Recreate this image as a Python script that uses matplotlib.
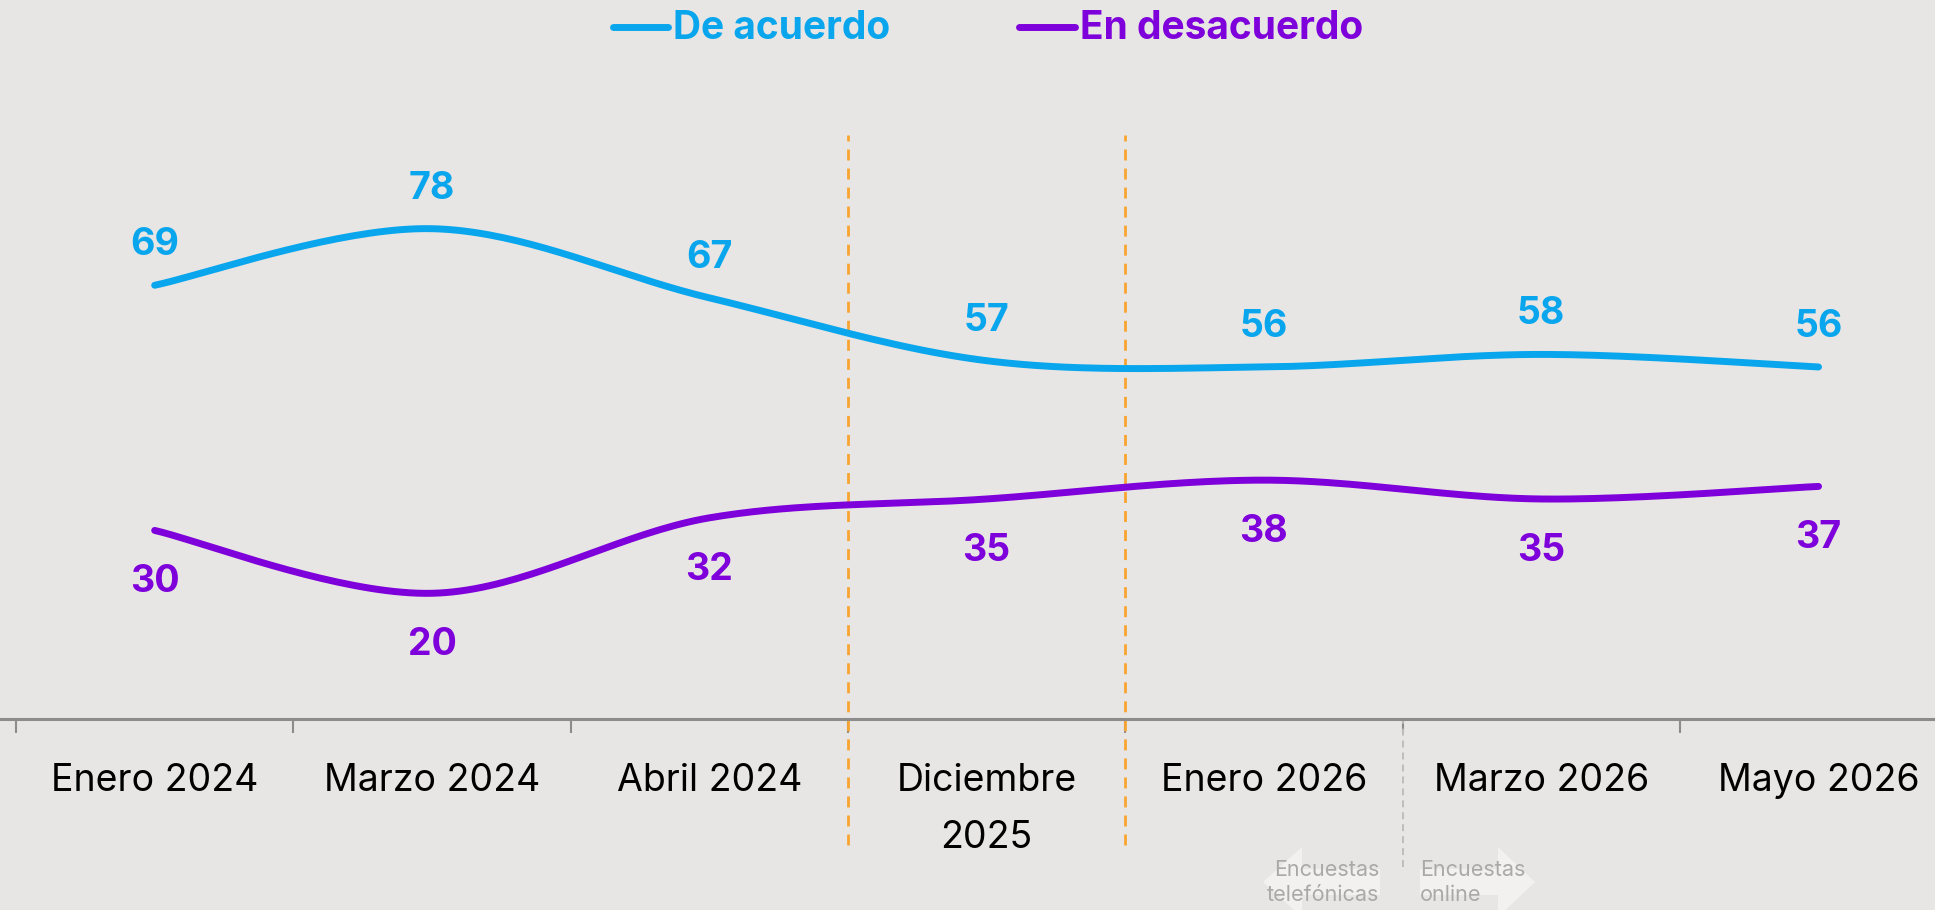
import numpy as np
import matplotlib.pyplot as plt
from matplotlib.patches import Polygon
from matplotlib.lines import Line2D

plt.rcParams['font.family'] = ['Inter', 'DejaVu Sans']

meses = ['Enero 2024', 'Marzo 2024', 'Abril 2024', 'Diciembre\n2025',
         'Enero 2026', 'Marzo 2026', 'Mayo 2026']
de_acuerdo = [69, 78, 67, 57, 56, 58, 56]
en_desacuerdo = [30, 20, 32, 35, 38, 35, 37]

azul = '#09A6EE'
morado = '#7E00DA'
fondo = '#E8E6E4'
W, H = 1935, 910


def suave(y, n=40):
    # curva tipo catmull-rom (como el "suavizado" de excel)
    x = np.arange(len(y), dtype=float)
    p = np.column_stack([x, np.array(y, dtype=float)])
    pts = []
    for i in range(len(p) - 1):
        p0 = p[max(i - 1, 0)]
        p1 = p[i]
        p2 = p[i + 1]
        p3 = p[min(i + 2, len(p) - 1)]
        c1 = p1 + (p2 - p0) / 6
        c2 = p2 - (p3 - p1) / 6
        t = np.linspace(0, 1, n)[:, None]
        seg = ((1 - t) ** 3) * p1 + 3 * ((1 - t) ** 2) * t * c1 + 3 * (1 - t) * t ** 2 * c2 + t ** 3 * p2
        pts.append(seg)
    pts = np.vstack(pts)
    return pts[:, 0], pts[:, 1]


def fig_xy(x, y):
    return x / W, 1 - y / H


fig = plt.figure(figsize=(W / 100, H / 100), dpi=100, facecolor=fondo)
ax = fig.add_axes([0, 191 / H, 1, 628.6 / H])
ax.set_facecolor(fondo)

for serie, color in [(de_acuerdo, azul), (en_desacuerdo, morado)]:
    xs, ys = suave(serie)
    ax.plot(xs, ys, color=color, lw=5, solid_capstyle='round', zorder=3)

for i, v in enumerate(de_acuerdo):
    ax.annotate(str(v), (i, v), xytext=(0, 21.6), textcoords='offset points',
                ha='center', va='baseline', fontsize=27, fontweight='bold', color=azul)
for i, v in enumerate(en_desacuerdo):
    ax.annotate(str(v), (i, v), xytext=(0, -44.6), textcoords='offset points',
                ha='center', va='baseline', fontsize=27, fontweight='bold', color=morado)

# lineas verticales
lw_o = 2.0
ax.vlines([2.5, 3.5], -20.0, 92.9, colors='#F9A431', lw=lw_o,
          linestyles=[(0, (7.9 / lw_o, 5.8 / lw_o))], clip_on=False, zorder=2)
lw_g = 1.4
ax.vlines([4.5], -23.5, 0, colors='#BDBDBD', lw=lw_g,
          linestyles=[(0, (5.0 / lw_g, 3.6 / lw_g))], clip_on=False, zorder=2)

# ejes
for s in ['top', 'left', 'right']:
    ax.spines[s].set_visible(False)
ax.spines['bottom'].set_color('#8C8C8C')
ax.spines['bottom'].set_linewidth(2.2)
ax.set_yticks([])
ax.set_xticks(range(len(meses)))
ax.set_xticklabels(meses, fontsize=27, color='black', linespacing=1.75)
ax.set_xticks(np.arange(-0.5, len(meses), 1), minor=True)
ax.tick_params(axis='x', which='major', length=0, pad=32)
ax.tick_params(axis='x', which='minor', length=10, width=1.5, color='#8C8C8C')
ax.set_xlim(-0.5577, 6.420)
ax.set_ylim(0, 100)

# leyenda
for x0, x1, tx, lab, c in [(613, 668, 673, 'De acuerdo', azul),
                           (1019, 1075, 1080, 'En desacuerdo', morado)]:
    a = fig_xy(x0, 27)
    b = fig_xy(x1, 27)
    fig.add_artist(Line2D([a[0], b[0]], [a[1], b[1]], color=c, lw=5,
                          solid_capstyle='round'))
    fig.text(*fig_xy(tx, 39), lab, color=c, fontsize=28, fontweight='bold',
             ha='left', va='baseline')

# flechas de fondo
flecha_izq = [(1263, 882), (1302, 847), (1302, 869), (1380, 869),
              (1380, 895), (1302, 895), (1302, 917)]
flecha_der = [(1535, 882), (1498, 847), (1498, 869), (1420, 869),
              (1420, 895), (1498, 895), (1498, 917)]
for f in [flecha_izq, flecha_der]:
    fig.add_artist(Polygon([fig_xy(x, y) for x, y in f], closed=True,
                           transform=fig.transFigure, facecolor='#F2F1F0',
                           edgecolor='none', zorder=0))

gris = '#A9A9A9'
fig.text(*fig_xy(1379, 876), 'Encuestas', ha='right', va='baseline', fontsize=15.5, color=gris)
fig.text(*fig_xy(1379, 901), 'telefónicas', ha='right', va='baseline', fontsize=15.5, color=gris)
fig.text(*fig_xy(1420, 876), 'Encuestas', ha='left', va='baseline', fontsize=15.5, color=gris)
fig.text(*fig_xy(1420, 901), 'online', ha='left', va='baseline', fontsize=15.5, color=gris)

fig.savefig('out.png', dpi=100, facecolor=fondo)
